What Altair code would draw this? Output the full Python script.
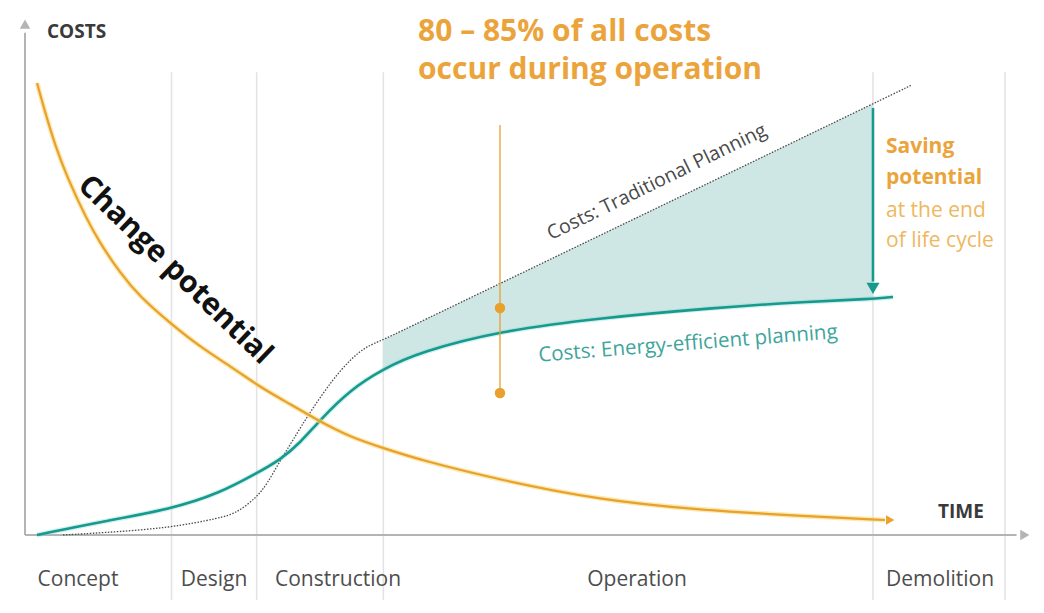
import altair as alt
import pandas as pd

# ---------------- data (time units 0..~100, cost units 0..~100) ----------------
phase_names = ["Concept", "Design", "Construction", "Operation", "Demolition"]
phase_label_t = [5.45, 19.44, 32.2, 62.96, 94.13]
phase_bounds_t = [15.07, 23.83, 36.86, 87.23, 100.81]

# Change potential curve
cp_t = [1.234, 2.057, 3.086, 4.321, 6.378, 7.715, 9.773, 11.83, 14.916, 18.002,
        21.397, 24.174, 26.54, 30.038, 33.433, 36.827, 40.634, 48.863, 59.15,
        69.437, 79.724, 88.468]
cp_c = [100.79, 94.32, 86.96, 79.82, 70.24, 65.11, 58.42, 53.07, 47.27, 41.92,
        37.24, 33.0, 30.1, 25.64, 21.85, 19.4, 16.72, 12.26, 7.8, 5.57, 4.24, 3.34]

# Costs: energy-efficient planning
ee_t = [1.234, 7.715, 15.122, 20.06, 23.866, 26.232, 28.289, 30.347, 33.433,
        36.827, 40.634, 48.863, 59.15, 70.775, 79.724, 87.234, 89.291]
ee_c = [0.0, 2.9, 5.8, 9.36, 13.82, 16.72, 20.51, 25.64, 32.33,
        37.01, 40.8, 45.49, 48.39, 50.62, 51.95, 52.62, 53.07]

# Costs: traditional planning
tr_t = [3.909, 7.715, 14.916, 20.06, 21.809, 23.866, 24.895, 26.232, 27.569,
        29.318, 31.684, 33.433, 34.976, 36.827, 40.634, 48.863, 59.15, 70.775,
        79.724, 87.234, 91.24]
tr_c = [0.0, 0.45, 1.56, 3.79, 4.91, 8.47, 11.37, 16.5, 21.18,
        27.43, 34.78, 39.02, 41.92, 43.48, 47.49, 56.06, 66.8, 78.93,
        88.3, 96.15, 100.34]

# Saving-potential band (operation phase)
band_t = [36.827, 40.634, 48.863, 59.15, 70.775, 79.724, 87.234]
band_top = [43.48, 47.49, 56.06, 66.8, 78.93, 88.3, 96.15]
band_bottom = [37.01, 40.8, 45.49, 48.39, 50.62, 51.95, 52.62]

# bracket "80-85% of all costs"
bracket_t = [48.86]
bracket_top = [91.42]
bracket_dots = [50.62, 31.66]

# saving arrow
saving_t = [87.23]
saving_from = [95.2]
saving_to = [56.5]
saving_head = [55.0]

ORANGE = "#E9A02C"
ORANGE_TXT = "#EBA43C"
ORANGE_LIGHT = "#EEB860"
TEAL = "#17998D"
TEAL_TXT = "#3EA59B"
FILL = "#CFE7E4"
AXIS = "#B4B4B4"
GRID = "#E4E4E4"
FONT = "Open Sans"

X = alt.Scale(domain=[-1.75, 104], nice=False, zero=False)
Y = alt.Scale(domain=[-14.5, 117.5], nice=False, zero=False)


def xe(f):
    return alt.X(f, type="quantitative", scale=X, axis=None)


def ye(f):
    return alt.Y(f, type="quantitative", scale=Y, axis=None)


# grid lines (phase boundaries)
grid_df = pd.DataFrame({"t": phase_bounds_t, "c1": [103.2] * 5, "c2": [-14.5] * 5})
grid = alt.Chart(grid_df).mark_rule(color=GRID, strokeWidth=1.6).encode(
    x=xe("t"), y=ye("c1"), y2=alt.Y2("c2"))

# band
band_df = pd.DataFrame({"t": band_t, "top": band_top, "bot": band_bottom})
band = alt.Chart(band_df).mark_area(color=FILL, opacity=1, interpolate="basis").encode(
    x=xe("t"), y=ye("top"), y2=alt.Y2("bot"))

# axes with arrows
yaxis_df = pd.DataFrame({"t": [0.0], "c1": [0.0], "c2": [112.0]})
yaxis = alt.Chart(yaxis_df).mark_rule(color=AXIS, strokeWidth=2).encode(
    x=xe("t"), y=ye("c1"), y2=alt.Y2("c2"))
xaxis_df = pd.DataFrame({"t1": [0.0], "t2": [102.0], "c": [0.0]})
xaxis = alt.Chart(xaxis_df).mark_rule(color=AXIS, strokeWidth=2).encode(
    x=xe("t1"), x2=alt.X2("t2"), y=ye("c"))
yhead = alt.Chart(pd.DataFrame({"t": [0.0], "c": [113.9]})).mark_point(
    shape="triangle-up", filled=True, color=AXIS, size=110, opacity=1).encode(x=xe("t"), y=ye("c"))
xhead = alt.Chart(pd.DataFrame({"t": [102.85], "c": [0.0]})).mark_point(
    shape="triangle-right", filled=True, color=AXIS, size=110, opacity=1).encode(x=xe("t"), y=ye("c"))

# traditional (dotted)
tr_df = pd.DataFrame({"t": tr_t, "c": tr_c})
trad = alt.Chart(tr_df).mark_line(color="#4a4a4a", strokeWidth=1.3, strokeDash=[1.5, 1.5],
                                  interpolate="basis").encode(x=xe("t"), y=ye("c"))

# energy-efficient
ee_df = pd.DataFrame({"t": ee_t, "c": ee_c})
ee_glow = alt.Chart(ee_df).mark_line(color="#7FD8CF", strokeWidth=5, opacity=0.35,
                                     interpolate="basis").encode(x=xe("t"), y=ye("c"))
ee = alt.Chart(ee_df).mark_line(color=TEAL, strokeWidth=2.6,
                                interpolate="basis").encode(x=xe("t"), y=ye("c"))

# change potential
cp_df = pd.DataFrame({"t": cp_t, "c": cp_c})
cp_glow = alt.Chart(cp_df).mark_line(color="#F6DC80", strokeWidth=5, opacity=0.6,
                                     interpolate="basis").encode(x=xe("t"), y=ye("c"))
cp = alt.Chart(cp_df).mark_line(color=ORANGE, strokeWidth=2.2,
                                interpolate="basis").encode(x=xe("t"), y=ye("c"))
cp_head = alt.Chart(pd.DataFrame({"t": [89.0], "c": [cp_c[-1]]})).mark_point(
    shape="triangle-right", filled=True, color=ORANGE, size=90, opacity=1).encode(x=xe("t"), y=ye("c"))

# bracket
br_df = pd.DataFrame({"t": bracket_t, "c1": bracket_top, "c2": [bracket_dots[1]]})
bracket = alt.Chart(br_df).mark_rule(color=ORANGE, strokeWidth=1.3).encode(
    x=xe("t"), y=ye("c1"), y2=alt.Y2("c2"))
dots_df = pd.DataFrame({"t": bracket_t * 2, "c": bracket_dots})
dots = alt.Chart(dots_df).mark_point(shape="circle", filled=True, color=ORANGE, size=110,
                                     opacity=1).encode(x=xe("t"), y=ye("c"))

# saving arrow
sa_df = pd.DataFrame({"t": saving_t, "c1": saving_from, "c2": saving_to})
sarrow = alt.Chart(sa_df).mark_rule(color=TEAL, strokeWidth=2.6).encode(
    x=xe("t"), y=ye("c1"), y2=alt.Y2("c2"))
shead = alt.Chart(pd.DataFrame({"t": saving_t, "c": saving_head})).mark_point(
    shape="triangle-down", filled=True, color=TEAL, size=170, opacity=1).encode(x=xe("t"), y=ye("c"))


def text_layer(ts, cs, labels, **kw):
    df = pd.DataFrame({"t": ts, "c": cs, "label": labels})
    return alt.Chart(df).mark_text(font=FONT, **kw).encode(
        x=xe("t"), y=ye("c"), text=alt.Text("label:N"))


phases = text_layer(phase_label_t, [-10.0] * 5, phase_names, fontSize=21,
                    color="#4d4d4d", align="center", baseline="middle")
costs_lbl = text_layer([2.26], [112.2], ["COSTS"], fontSize=19, fontWeight="bold",
                       color="#3a3a3a", align="left", baseline="middle")
time_lbl = text_layer([93.92], [5.13], ["TIME"], fontSize=19, fontWeight="bold",
                      color="#3a3a3a", align="left", baseline="middle")
title = text_layer([40.43, 40.43], [110.2, 101.6],
                   ["80 – 85% of all costs", "occur during operation"],
                   fontSize=30, fontWeight="bold", color=ORANGE_TXT, align="left", baseline="alphabetic")
saving_bold = text_layer([88.57, 88.57], [86.5, 79.6], ["Saving", "potential"],
                         fontSize=21, fontWeight="bold", color=ORANGE_TXT, align="left", baseline="middle")
saving_reg = text_layer([88.57, 88.57], [72.2, 65.6], ["at the end", "of life cycle"],
                        fontSize=21, color=ORANGE_LIGHT, align="left", baseline="middle")
change_lbl = text_layer([15.43], [59.1], ["Change potential"], fontSize=30, fontWeight="bold",
                        color="#111111", align="center", baseline="middle", angle=44)
trad_lbl = text_layer([65.0], [78.7], ["Costs: Traditional Planning"], fontSize=19.5,
                      color="#4a4a4a", align="center", baseline="middle", angle=334)
ee_lbl = text_layer([68.2], [42.6], ["Costs: Energy-efficient planning"], fontSize=20.5,
                    color=TEAL_TXT, align="center", baseline="middle", angle=355.5)

chart = alt.layer(
    grid, band, yaxis, xaxis, yhead, xhead, trad, ee_glow, ee, cp_glow, cp, cp_head,
    bracket, dots, sarrow, shead,
    phases, costs_lbl, time_lbl, title, saving_bold, saving_reg, change_lbl, trad_lbl, ee_lbl,
).properties(width=1028, height=592, padding=0, background="white").configure_view(stroke=None)

chart.save("out.html", embed_options={"renderer": "svg", "actions": False})
